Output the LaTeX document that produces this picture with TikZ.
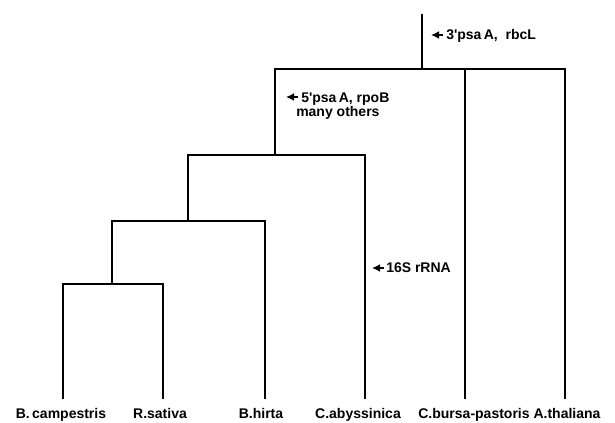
\documentclass[tikz,border=0pt]{standalone}
\usepackage{fontspec}
\setmainfont{Liberation Sans}
\usetikzlibrary{arrows.meta}
\begin{document}
\begin{tikzpicture}[x=0.75pt,y=-0.75pt,
  tree/.style={line width=1.6pt, line join=miter},
  leaf/.style={font=\fontsize{10.5}{12}\selectfont\bfseries, anchor=base, inner sep=0pt},
  note/.style={font=\fontsize{10.5}{12}\selectfont\bfseries, anchor=base west, inner sep=0pt, align=left},
  markarrow/.style={line width=1.3pt, -{Latex[length=6pt,width=6pt]}}]
\useasboundingbox (0,0) rectangle (615,422);
% tree points
\coordinate (r0) at (422,14);
\coordinate (n4) at (422,69);
\coordinate (n3) at (275,155);
\coordinate (n2) at (188,221);
\coordinate (n1) at (112,284);
\coordinate (t1) at (63,399);
\coordinate (t2) at (163,399);
\coordinate (t3) at (265,399);
\coordinate (t4) at (365,399);
\coordinate (t5) at (465,399);
\coordinate (t6) at (565,399);
% branches
\draw[tree] (t1) |- (n1) -| (t2);
\draw[tree] (n1) |- (n2) -| (t3);
\draw[tree] (n2) |- (n3) -| (t4);
\draw[tree] (n3) |- (n4) -| (t6);
\draw[tree] (t5) -- (t5 |- n4);
\draw[tree] (n4) -- (r0);
% leaf labels
\node[leaf] (l1) at (61,418) {B.\,campestris};
\node[leaf] (l2) at (160,418) {R.sativa};
\node[leaf] (l3) at (261,418) {B.hirta};
\node[leaf] (l4) at (358,418) {C.abyssinica};
\node[leaf] (l5) at (474,418) {C.bursa-pastoris};
\node[leaf] (l6) at (567,418) {A.thaliana};
% annotations
\coordinate (a1s) at (443,35);
\coordinate (a1e) at (431,35);
\draw[markarrow] (a1s) -- (a1e);
\node[note] (m1) at (446,39) {3\textquotesingle psa\,A,\ \ rbcL};
\coordinate (a2s) at (298,97);
\coordinate (a2e) at (286,97);
\draw[markarrow] (a2s) -- (a2e);
\node[note] (m2) at (301,102) {5\textquotesingle psa\,A, rpoB};
\node[note] (m3) at (296,116) {many others};
\coordinate (a3s) at (384,268);
\coordinate (a3e) at (372,268);
\draw[markarrow] (a3s) -- (a3e);
\node[note] (m4) at (386,272) {16S rRNA};
\end{tikzpicture}
\end{document}
